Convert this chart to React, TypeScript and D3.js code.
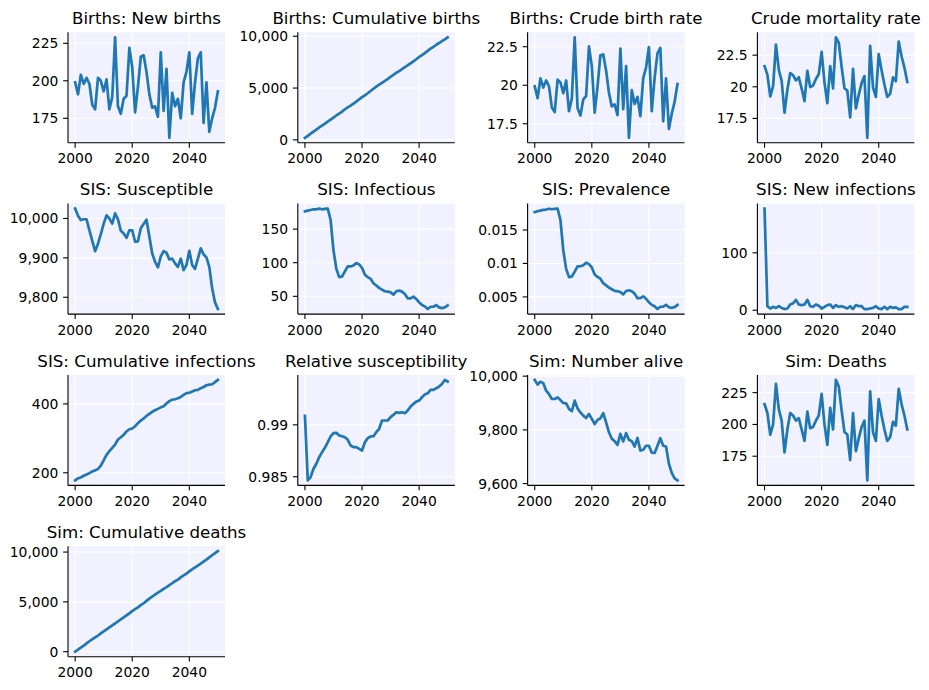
import React from "react";
import * as d3 from "d3";

const YEARS = d3.range(2000, 2051);
const X_TICKS = [2000, 2020, 2040];

const NEW_BIRTHS = [199, 191, 204, 198, 202, 198, 184, 181, 202, 200, 193, 201, 181, 189, 229, 183, 178, 188, 190, 222, 209, 179, 196, 216, 217, 206, 191, 182, 183, 176, 219, 180, 208, 162, 192, 183, 188, 175, 199, 206, 219, 178, 199, 215, 219, 172, 199, 166, 175, 182, 193];
const CUM_BIRTHS = [199, 390, 594, 792, 994, 1192, 1376, 1557, 1759, 1959, 2152, 2353, 2534, 2723, 2952, 3135, 3313, 3501, 3691, 3913, 4122, 4301, 4497, 4713, 4930, 5136, 5327, 5509, 5692, 5868, 6087, 6267, 6475, 6637, 6829, 7012, 7200, 7375, 7574, 7780, 7999, 8177, 8376, 8591, 8810, 8982, 9181, 9347, 9522, 9704, 9897];
const CRUDE_BIRTH_RATE = [19.93, 19.16, 20.44, 19.85, 20.31, 19.93, 18.56, 18.26, 20.36, 20.18, 19.49, 20.31, 18.32, 19.15, 23.11, 18.52, 18.04, 19.08, 19.3, 22.52, 21.24, 18.22, 19.92, 21.94, 22.0, 20.96, 19.51, 18.63, 18.75, 18.06, 22.38, 18.45, 21.25, 16.59, 19.68, 18.79, 19.24, 18.0, 20.46, 21.15, 22.48, 18.32, 20.49, 22.07, 22.42, 17.66, 20.44, 17.16, 18.15, 18.92, 20.08];
const CRUDE_MORTALITY_RATE = [21.63, 20.96, 19.24, 20.05, 23.33, 21.34, 20.47, 17.95, 19.76, 21.09, 20.91, 20.51, 20.75, 19.86, 18.87, 21.26, 19.97, 20.1, 20.62, 21.0, 22.76, 20.36, 18.7, 21.64, 19.87, 23.91, 23.49, 21.6, 19.88, 19.7, 17.58, 21.42, 18.29, 19.36, 20.29, 20.85, 15.97, 23.24, 19.95, 19.2, 22.58, 21.31, 20.18, 19.2, 19.45, 20.74, 20.44, 23.57, 22.41, 21.52, 20.39];
const SUSCEPTIBLE = [10025, 10007, 9996, 9998, 9998, 9970, 9943, 9917, 9936, 9960, 9987, 10008, 10000, 9987, 10013, 9998, 9969, 9962, 9951, 9970, 9970, 9941, 9942, 9975, 9986, 9997, 9954, 9911, 9890, 9876, 9904, 9917, 9913, 9896, 9898, 9886, 9877, 9898, 9869, 9882, 9918, 9882, 9872, 9898, 9924, 9909, 9901, 9877, 9823, 9787, 9770];
const INFECTIOUS = [176.5, 177.5, 178.5, 179.5, 179.5, 180.5, 179.5, 180, 180.5, 163.5, 118.5, 91, 78.5, 79.5, 87, 94.5, 94.5, 96, 99.5, 97.5, 92.5, 82, 78.5, 76, 69.5, 66, 62.5, 60, 57.5, 57, 56, 52.5, 57.5, 58.5, 57, 53.5, 47, 47, 49.5, 46, 41, 37, 35, 31, 34.5, 34.5, 37, 33.5, 32.5, 33.5, 36.5];
const PREVALENCE = [0.01767, 0.01781, 0.01789, 0.018, 0.01805, 0.01817, 0.0181, 0.01815, 0.01819, 0.0165, 0.01197, 0.00919, 0.00795, 0.00805, 0.00878, 0.00956, 0.00958, 0.00974, 0.01011, 0.00989, 0.0094, 0.00835, 0.00798, 0.00772, 0.00705, 0.00672, 0.00638, 0.00614, 0.00589, 0.00585, 0.00572, 0.00538, 0.00587, 0.00599, 0.00584, 0.00549, 0.00481, 0.00483, 0.00509, 0.00472, 0.00421, 0.00381, 0.0036, 0.00318, 0.00353, 0.00354, 0.0038, 0.00346, 0.00337, 0.00348, 0.0038];
const NEW_INFECTIONS = [177, 7, 3, 6, 4, 7, 4, 2, 3, 10, 12, 18, 10, 9, 10, 18, 7, 6, 10, 8, 3, 6, 9, 10, 4, 9, 6, 7, 5, 3, 7, 2, 9, 7, 7, 2, 2, 3, 4, 7, 3, 2, 6, 2, 6, 4, 5, 2, 2, 6, 6];
const CUM_INFECTIONS = [178, 184, 186.5, 191.5, 195, 199, 204, 207, 211, 221, 236, 252, 263, 272.5, 282, 296.5, 303, 310, 320, 326.5, 328.5, 335, 344, 351.5, 357.5, 365, 371, 377, 381.5, 385.5, 390, 393, 401, 408, 412.5, 413.5, 416.5, 420, 426, 431, 432, 436, 439.5, 440.5, 445.5, 449, 454, 456, 457, 463, 469.5];
const REL_SUS = [0.99087, 0.98465, 0.98497, 0.98577, 0.98625, 0.98689, 0.98737, 0.98779, 0.98833, 0.98888, 0.9892, 0.98923, 0.98897, 0.98891, 0.98881, 0.98856, 0.98801, 0.98785, 0.98785, 0.98769, 0.98753, 0.98833, 0.98872, 0.98888, 0.98891, 0.98929, 0.98962, 0.99042, 0.99042, 0.99042, 0.99074, 0.99096, 0.99122, 0.99115, 0.99122, 0.99112, 0.99138, 0.99176, 0.99202, 0.99224, 0.99234, 0.99266, 0.99292, 0.99304, 0.99337, 0.99337, 0.99353, 0.99369, 0.99394, 0.99433, 0.99417];
const NUMBER_ALIVE = [9986, 9969, 9979, 9974, 9946, 9933, 9915, 9915, 9921, 9911, 9900, 9899, 9878, 9870, 9909, 9880, 9865, 9853, 9844, 9859, 9841, 9822, 9837, 9843, 9862, 9828, 9791, 9767, 9758, 9744, 9785, 9757, 9788, 9763, 9758, 9738, 9770, 9723, 9726, 9741, 9741, 9715, 9714, 9741, 9769, 9741, 9738, 9674, 9640, 9619, 9612];
const DEATHS = [216, 209, 192, 200, 232, 212, 203, 178, 196, 209, 207, 203, 205, 196, 187, 210, 197, 198, 203, 207, 224, 200, 184, 213, 196, 235, 230, 211, 194, 192, 172, 209, 179, 189, 198, 203, 156, 226, 194, 187, 220, 207, 196, 187, 190, 202, 199, 228, 216, 207, 196];
const CUM_DEATHS = [0, 209, 401, 601, 833, 1045, 1248, 1426, 1622, 1831, 2038, 2241, 2446, 2642, 2829, 3039, 3236, 3434, 3637, 3844, 4068, 4268, 4452, 4665, 4861, 5096, 5326, 5537, 5731, 5923, 6095, 6304, 6483, 6672, 6870, 7073, 7229, 7455, 7649, 7836, 8056, 8263, 8459, 8646, 8836, 9038, 9237, 9465, 9681, 9888, 10084];

const TITLES = [
  "Births: New births",
  "Births: Cumulative births",
  "Births: Crude birth rate",
  "Crude mortality rate",
  "SIS: Susceptible",
  "SIS: Infectious",
  "SIS: Prevalence",
  "SIS: New infections",
  "SIS: Cumulative infections",
  "Relative susceptibility",
  "Sim: Number alive",
  "Sim: Deaths",
  "Sim: Cumulative deaths",
];

const SERIES = [
  NEW_BIRTHS, CUM_BIRTHS, CRUDE_BIRTH_RATE, CRUDE_MORTALITY_RATE,
  SUSCEPTIBLE, INFECTIOUS, PREVALENCE, NEW_INFECTIONS,
  CUM_INFECTIONS, REL_SUS, NUMBER_ALIVE, DEATHS, CUM_DEATHS,
];

const Y_TICKS = [
  [175, 200, 225],
  [0, 5000, 10000],
  [17.5, 20, 22.5],
  [17.5, 20, 22.5],
  [9800, 9900, 10000],
  [50, 100, 150],
  [0.005, 0.01, 0.015],
  [0, 100],
  [200, 400],
  [0.985, 0.99],
  [9600, 9800, 10000],
  [175, 200, 225],
  [0, 5000, 10000],
];

const W = 929;
const H = 690;
const AX_W = 157;
const AX_H = 110.5;
const LEFT0 = 68;
const COL_PITCH = 229.8;
const TOP0 = 32.3;
const ROW_PITCH = 171.3;
const FONT = "'DejaVu Sans', 'Liberation Sans', sans-serif";
const fmt = d3.format(",");

function Panel({ idx }: { idx: number }) {
  const col = idx % 4;
  const row = Math.floor(idx / 4);
  const x0 = LEFT0 + col * COL_PITCH;
  const y0 = TOP0 + row * ROW_PITCH;
  const values = SERIES[idx];
  const [xmin, xmax] = d3.extent(YEARS) as [number, number];
  const xpad = (xmax - xmin) * 0.05;
  const xs = d3.scaleLinear().domain([xmin - xpad, xmax + xpad]).range([x0, x0 + AX_W]);
  const [ymin, ymax] = d3.extent(values) as [number, number];
  const ypad = (ymax - ymin) * 0.05;
  const ys = d3.scaleLinear().domain([ymin - ypad, ymax + ypad]).range([y0 + AX_H, y0]);
  const line = d3
    .line<number>()
    .x((_, i) => xs(YEARS[i]))
    .y((d) => ys(d));
  const bottom = y0 + AX_H;
  return (
    <g>
      <rect x={x0} y={y0} width={AX_W} height={AX_H} fill="#f1f1ff" />
      {X_TICKS.map((t) => (
        <line key={"gx" + t} x1={xs(t)} x2={xs(t)} y1={y0} y2={bottom} stroke="#ffffff" strokeWidth={1.1} />
      ))}
      {Y_TICKS[idx].map((t) => (
        <line key={"gy" + t} x1={x0} x2={x0 + AX_W} y1={ys(t)} y2={ys(t)} stroke="#ffffff" strokeWidth={1.1} />
      ))}
      <path d={line(values) || ""} fill="none" stroke="#1f77b4" strokeWidth={2.7} strokeLinejoin="round" strokeLinecap="square" />
      <line x1={x0} x2={x0} y1={y0} y2={bottom} stroke="#000" strokeWidth={1.1} />
      <line x1={x0} x2={x0 + AX_W} y1={bottom} y2={bottom} stroke="#000" strokeWidth={1.1} />
      {X_TICKS.map((t) => (
        <g key={"tx" + t}>
          <line x1={xs(t)} x2={xs(t)} y1={bottom} y2={bottom + 4.9} stroke="#000" strokeWidth={1.1} />
          <text x={xs(t)} y={bottom + 20.5} textAnchor="middle" fontSize={13.89} fontFamily={FONT} fill="#000">
            {t}
          </text>
        </g>
      ))}
      {Y_TICKS[idx].map((t) => (
        <g key={"ty" + t}>
          <line x1={x0 - 4.9} x2={x0} y1={ys(t)} y2={ys(t)} stroke="#000" strokeWidth={1.1} />
          <text x={x0 - 9.7} y={ys(t)} dy="0.36em" textAnchor="end" fontSize={13.89} fontFamily={FONT} fill="#000">
            {fmt(t)}
          </text>
        </g>
      ))}
      <text x={x0 + AX_W / 2} y={y0 - 8.3} textAnchor="middle" fontSize={16.67} fontFamily={FONT} fill="#000">
        {TITLES[idx]}
      </text>
    </g>
  );
}

export default function App() {
  return (
    <svg
      width={W}
      height={H}
      viewBox={`0 0 ${W} ${H}`}
      style={{ position: "absolute", left: 0, top: 0, background: "#ffffff" }}
    >
      <rect x={0} y={0} width={W} height={H} fill="#ffffff" />
      {SERIES.map((_, i) => (
        <Panel key={i} idx={i} />
      ))}
    </svg>
  );
}
